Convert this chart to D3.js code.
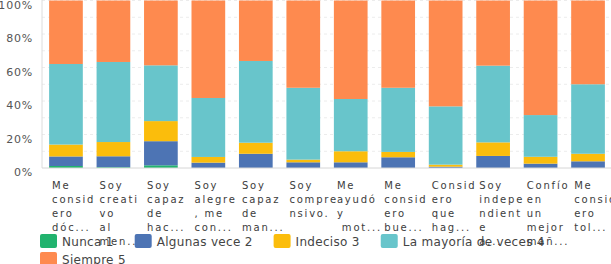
<!DOCTYPE html>
<html>
<head>
<meta charset="utf-8">
<script src="https://cdn.jsdelivr.net/npm/d3@7"></script>
<style>
  body { margin: 0; background: #fff; }
  svg { display: block; }
</style>
</head>
<body>
<div id="chart"></div>
<script>
// Category labels, already wrapped the way the chart shows them
const labelLines = [
  ["Me", "consid", "ero", "dóc..."],
  ["Soy", "creati", "vo", "al", "men..."],
  ["Soy", "capaz", "de", "hac..."],
  ["Soy", "alegre", ", me", "con..."],
  ["Soy", "capaz", "de", "man..."],
  ["Soy", "compre", "nsivo."],
  ["Me", "ayudó", "y", " mot..."],
  ["Me", "consid", "ero", "bue..."],
  ["Consid", "ero", "que", "hag..."],
  ["Soy", "indepe", "ndient", "e", "a..."],
  ["Confío", "en", "un", "mejor", "mañ..."],
  ["Me", "consid", "ero", "tol..."]
];
const categories = labelLines.map((d, i) => "c" + i);

const seriesNames = ["Nunca 1", "Algunas vece 2", "Indeciso 3", "La mayoría de veces 4", "Siempre 5"];

// Percent values per series (one entry per category)
const nunca    = [1.2, 0.5, 1.6, 0, 0, 0, 0, 0, 0, 0, 0, 0];
const algunas  = [5.7, 6.5, 14.4, 3.2, 8.5, 3.4, 3.4, 6.4, 0.8, 7.2, 2.6, 4.0];
const indeciso = [7.1, 8.5, 12.0, 3.4, 6.6, 1.6, 6.6, 3.2, 1.2, 8.1, 4.1, 4.5];
const mayoria  = [48.1, 47.8, 33.3, 35.2, 48.8, 42.9, 31.2, 38.3, 34.8, 45.8, 24.9, 41.5];
const siempre  = [37.9, 36.7, 38.7, 58.2, 36.1, 52.1, 58.8, 52.1, 63.2, 38.9, 68.4, 50.0];

const yTicks = [0, 20, 40, 60, 80, 100];

const colors = ["#21b36e", "#4d74b4", "#fbbd0c", "#68c5cb", "#fe8a4f"];

/*******************************/
/*    Declare the constants    */
/*******************************/
const width = 611;
const height = 264;
const plotLeft = 42;
const plotRight = 612;
const plotTop = 0.5;
const plotBottom = 168;

const svg = d3.select("#chart")
  .append("svg")
    .attr("width", width)
    .attr("height", height)
    .attr("viewBox", `0 0 ${width} ${height}`);

// Build the table for the stack
const seriesValues = [nunca, algunas, indeciso, mayoria, siempre];
const table = categories.map((c, i) => {
  const row = {cat: c};
  seriesNames.forEach((s, j) => row[s] = seriesValues[j][i]);
  return row;
});
const stacked = d3.stack().keys(seriesNames)(table);

// Scales
const xScale = d3.scaleBand()
  .domain(categories)
  .range([plotLeft, plotRight])
  .paddingInner(0.29)
  .paddingOuter(0.15);

const yScale = d3.scaleLinear()
  .domain([0, 100])
  .range([plotBottom, plotTop]);

// Faint gridlines every 10%
svg.append("g")
  .selectAll("line")
  .data(d3.range(10, 101, 10))
  .join("line")
    .attr("x1", plotLeft)
    .attr("x2", width)
    .attr("y1", d => yScale(d))
    .attr("y2", d => yScale(d))
    .attr("stroke", "#ececec")
    .attr("stroke-width", 1)
    .attr("stroke-dasharray", "3,3");

// Bars
svg.append("g")
  .selectAll("g")
  .data(stacked)
  .join("g")
    .attr("fill", (d, i) => colors[i])
  .selectAll("rect")
  .data(d => d)
  .join("rect")
    .attr("x", d => xScale(d.data.cat))
    .attr("y", d => yScale(d[1]))
    .attr("width", xScale.bandwidth())
    .attr("height", d => Math.max(0, yScale(d[0]) - yScale(d[1])));

// Axis lines
svg.append("line")
  .attr("x1", plotLeft).attr("x2", plotLeft)
  .attr("y1", 0).attr("y2", plotBottom)
  .attr("stroke", "#dcdcdc");
svg.append("line")
  .attr("x1", plotLeft).attr("x2", width)
  .attr("y1", plotBottom).attr("y2", plotBottom)
  .attr("stroke", "#d6d6d6");

// Y axis labels
const leftAxis = d3.axisLeft(yScale)
  .tickValues(yTicks)
  .tickFormat(d => d + "%")
  .tickSize(0)
  .tickPadding(9);
const yAxisG = svg.append("g")
  .attr("transform", `translate(${plotLeft}, 4)`)
  .call(leftAxis);
yAxisG.select(".domain").remove();
yAxisG.selectAll("text")
  .attr("fill", "#555")
  .attr("font-family", "DejaVu Sans")
  .attr("font-size", 11)
  .attr("letter-spacing", "0.8px");

// X labels, wrapped lines
const xLabels = svg.append("g")
  .selectAll("text")
  .data(categories)
  .join("text")
    .attr("x", d => xScale(d) + 3)
    .attr("y", 189)
    .attr("fill", "#3c3c3c")
    .attr("font-family", "DejaVu Sans")
    .attr("font-size", 10)
    .attr("letter-spacing", "1.8px")
    .attr("xml:space", "preserve");
xLabels.selectAll("tspan")
  .data((d, i) => labelLines[i])
  .join("tspan")
    .attr("x", function() { return d3.select(this.parentNode).attr("x"); })
    .attr("dy", (d, i) => i === 0 ? 0 : 14)
    .text(d => d);

// Legend
const legend = svg.append("g");
let lx = 40;
let ly = 234;
seriesNames.forEach((name, i) => {
  const item = legend.append("g");
  const label = item.append("text")
    .attr("font-family", "DejaVu Sans")
    .attr("font-size", 12)
    .attr("letter-spacing", "0.3px")
    .attr("fill", "#444")
    .text(name);
  const w = 22 + label.node().getComputedTextLength();
  if (lx + w > 575) { lx = 40; ly += 18; }
  item.append("rect")
    .attr("x", lx).attr("y", ly)
    .attr("width", 17).attr("height", 14)
    .attr("rx", 2)
    .attr("fill", colors[i]);
  label.attr("x", lx + 22).attr("y", ly + 11.5);
  lx += w + 21;
});
</script>
</body>
</html>
